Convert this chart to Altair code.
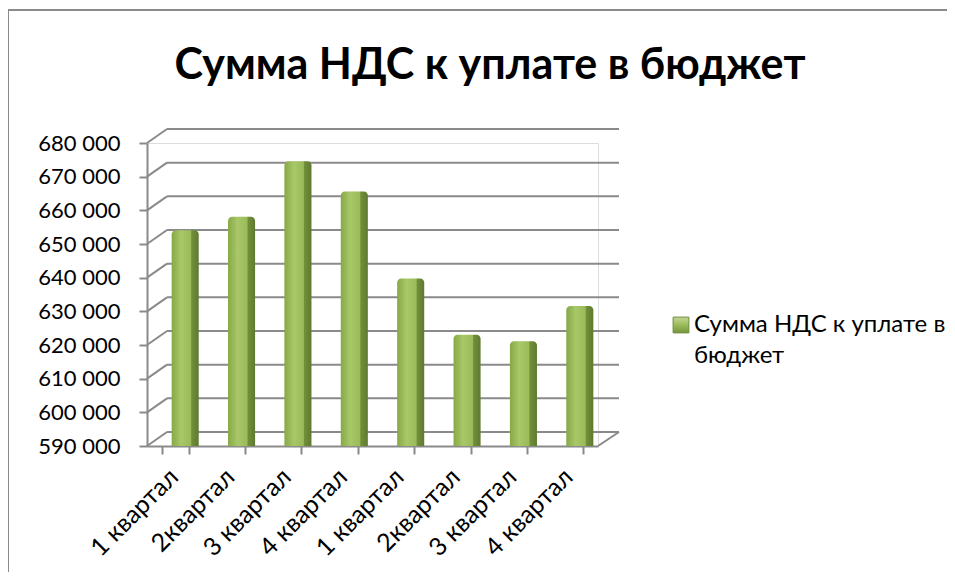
import altair as alt
import pandas as pd

categories = ["1 квартал", "2квартал", "3 квартал", "4 квартал",
              "1 квартал ", "2квартал ", "3 квартал ", "4 квартал "]
values = [652000, 656000, 672500, 663500, 637700, 621000, 619000, 629500]
series_name = "Сумма НДС к уплате в бюджет"
legend_lines = ["Сумма НДС к уплате в", "бюджет"]
y_ticks = [590000, 600000, 610000, 620000, 630000, 640000, 650000, 660000, 670000, 680000]

df = pd.DataFrame({"cat": categories, "value": values})
ticks_df = pd.DataFrame({"tick": y_ticks})

FONT = "Lato"
W, H = 451, 303
DX, DY = 20, 14          # 3D depth of the back wall
GRID = "#8A8A8A"

yscale = alt.Scale(domain=[590000, 680000], nice=False, zero=False)
y_axis = alt.Axis(title=None, values=y_ticks,
                  labelExpr="replace(format(datum.value, ','), ',', ' ')")

bar_grad = alt.Gradient(
    gradient="linear", x1=0, x2=1, y1=0, y2=0,
    stops=[
        alt.GradientStop(color="#86A845", offset=0),
        alt.GradientStop(color="#A8C869", offset=0.35),
        alt.GradientStop(color="#9BBB59", offset=0.70),
        alt.GradientStop(color="#728F3A", offset=0.74),
        alt.GradientStop(color="#5F7A2F", offset=1),
    ],
)

x_enc = alt.X("cat:N", sort=categories,
              scale=alt.Scale(paddingInner=0.52, paddingOuter=0.26),
              axis=alt.Axis(title=None, labelExpr="trim(datum.label)"))

# back-wall gridlines
grid = alt.Chart(ticks_df).mark_rule(color=GRID, strokeWidth=2, yOffset=-DY).encode(
    y=alt.Y("tick:Q", scale=yscale, axis=y_axis),
    x=alt.value(DX), x2=alt.value(W + DX + 1),
)
# side-wall diagonals
diag = alt.Chart(ticks_df).mark_rule(color=GRID, strokeWidth=2, y2Offset=-DY).encode(
    y=alt.Y("tick:Q", scale=yscale, axis=y_axis), y2=alt.Y2("tick:Q"),
    x=alt.value(0), x2=alt.value(DX),
)
# floor right edge
floor_df = pd.DataFrame({"tick": [y_ticks[0]]})
floor_edge = alt.Chart(floor_df).mark_rule(color=GRID, strokeWidth=2, y2Offset=-DY).encode(
    y=alt.Y("tick:Q", scale=yscale, axis=y_axis), y2=alt.Y2("tick:Q"),
    x=alt.value(W), x2=alt.value(W + DX + 1),
)

bars = alt.Chart(df).mark_bar(fill=bar_grad, xOffset=10, yOffset=-7, cornerRadiusTopLeft=4,
                              cornerRadiusTopRight=4).encode(
    x=x_enc, y=alt.Y("value:Q", scale=yscale, axis=y_axis), y2=alt.datum(590000))

# legend
legend_df = pd.DataFrame({"series": [series_name]})
sym_grad = alt.Gradient(
    gradient="linear", x1=0, x2=0, y1=0, y2=1,
    stops=[alt.GradientStop(color="#C3D69B", offset=0),
           alt.GradientStop(color="#9BBB59", offset=0.5),
           alt.GradientStop(color="#76933C", offset=1)],
)
leg_sym = alt.Chart(legend_df).mark_square(size=250, fill=sym_grad, stroke="#6F8C37",
                                           strokeWidth=1, opacity=1).encode(
    x=alt.value(534), y=alt.value(182))
leg_txt = alt.Chart(legend_df).mark_text(
    align="left", baseline="alphabetic", font=FONT, fontSize=24, lineHeight=31,
    color="#000000").encode(
    x=alt.value(547), y=alt.value(189), text=alt.value(legend_lines))

title = alt.Chart(legend_df).mark_text(
    align="center", baseline="alphabetic", font=FONT, fontSize=43, fontWeight="bold",
    color="#000000").encode(x=alt.value(343), y=alt.value(-64), text=alt.value(series_name))

border_data = pd.DataFrame({"k": [1]})
border_v = alt.Chart(border_data).mark_rule(color=GRID, strokeWidth=2).encode(
    x=alt.value(-139), y=alt.value(-133), y2=alt.value(440))
border_h = alt.Chart(border_data).mark_rule(color=GRID, strokeWidth=2).encode(
    x=alt.value(-139), x2=alt.value(810), y=alt.value(-133))

chart = alt.layer(grid, diag, floor_edge, bars, leg_sym, leg_txt, title,
                  border_v, border_h).properties(
    width=W, height=H,
    autosize=alt.AutoSizeParams(type="none"),
    padding={"left": 139, "top": 135, "right": 349, "bottom": 126},
).configure_view(stroke=None).configure(background="#FFFFFF").configure_axis(
    labelFont=FONT, labelColor="#000000", labelOverlap=False, grid=False,
    domainColor=GRID, tickColor=GRID, domainWidth=2, tickWidth=2, tickSize=8,
).configure_axisY(
    labelFontSize=22, labelPadding=19,
).configure_axisX(
    labelFontSize=25, labelAngle=-45, tickBand="extent", labelPadding=10, labelOffset=-10,
)

chart.save("out.html", embed_options={"renderer": "svg", "actions": False})
